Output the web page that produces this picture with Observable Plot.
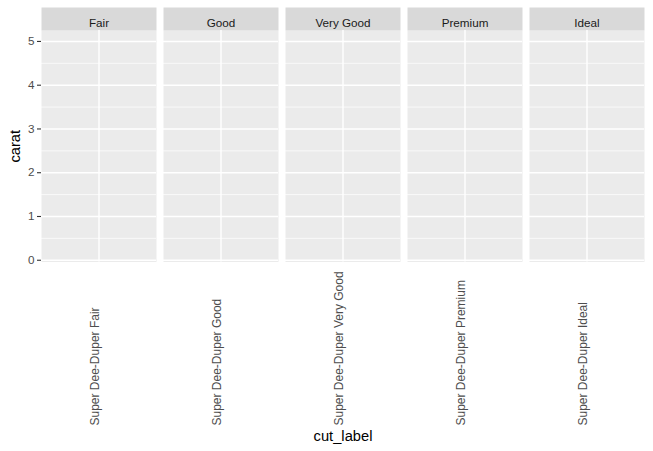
<!DOCTYPE html>
<html>
<head>
<meta charset="utf-8">
<script src="https://cdn.jsdelivr.net/npm/d3@7"></script>
<script src="https://cdn.jsdelivr.net/npm/@observablehq/plot@0.6"></script>
<style>
  html, body { margin: 0; padding: 0; background: #fff; }
  #chart svg { display: block; font-family: "Liberation Sans", Arial, sans-serif; }
</style>
</head>
<body>
<div id="chart"></div>
<script>
// ---- data ----
const cuts = ["Fair", "Good", "Very Good", "Premium", "Ideal"];
const cutLabels = ["Super Dee-Duper Fair", "Super Dee-Duper Good", "Super Dee-Duper Very Good", "Super Dee-Duper Premium", "Super Dee-Duper Ideal"];
const yLimits = [-0.04, 5.25];
const yTicks = [0, 1, 2, 3, 4, 5];
const yMinorTicks = [0.5, 1.5, 2.5, 3.5, 4.5];
const xTitle = "cut_label";
const yTitle = "carat";

const rows = cuts.map((c, i) => ({cut: c, label: cutLabels[i]}));

const chart = Plot.plot({
  width: 653,
  height: 451,
  marginLeft: 39,
  marginRight: 7.3,
  marginTop: 30,
  marginBottom: 189.5,
  style: {background: "#fff", fontFamily: "Liberation Sans, Arial, sans-serif", overflow: "visible"},
  fx: {domain: cuts, paddingInner: 0.06, paddingOuter: 0, axis: null},
  y: {domain: yLimits, axis: null},
  marks: [
    // panel background
    Plot.frame({fill: "#EBEBEB"}),
    // strip background
    Plot.frame({fill: "#D9D9D9", insetTop: -23, insetBottom: 231.5}),
    // minor & major grid
    Plot.gridY(yMinorTicks, {stroke: "#fff", strokeOpacity: 1, strokeWidth: 0.7}),
    Plot.gridY(yTicks, {stroke: "#fff", strokeOpacity: 1, strokeWidth: 1.4}),
    Plot.ruleX(rows, {fx: "cut", x: null, stroke: "#fff", strokeWidth: 1.4}),
    // y axis
    Plot.axisY(yTicks, {
      anchor: "left", tickSize: 4, tickPadding: 3, stroke: "#333", strokeWidth: 1.1,
      fill: "#4D4D4D", fontSize: 11.7, tickFormat: d => String(d),
      label: null
    }),
    Plot.axisY({
      anchor: "left", ticks: [], tickSize: 0, label: yTitle, labelAnchor: "center",
      labelArrow: "none", labelOffset: 32, fontSize: 14.7, color: "#000"
    }),
    // strip labels
    Plot.text(rows, {fx: "cut", text: "cut", frameAnchor: "top", dy: -11.5, fontSize: 11.7, fill: "#1A1A1A"}),
    // x tick labels (per facet)
    Plot.text(rows, {fx: "cut", text: "label", frameAnchor: "bottom", rotate: -90, textAnchor: "start", dy: 163.5, fontSize: 12, fill: "#4D4D4D"}),
    // x title
    Plot.axisFx({anchor: "bottom", tickSize: 0, tickFormat: () => "", label: xTitle, labelAnchor: "center", labelArrow: "none", labelOffset: 179, fontSize: 14.7, color: "#000"})
  ]
});
document.getElementById("chart").appendChild(chart);
</script>
</body>
</html>
